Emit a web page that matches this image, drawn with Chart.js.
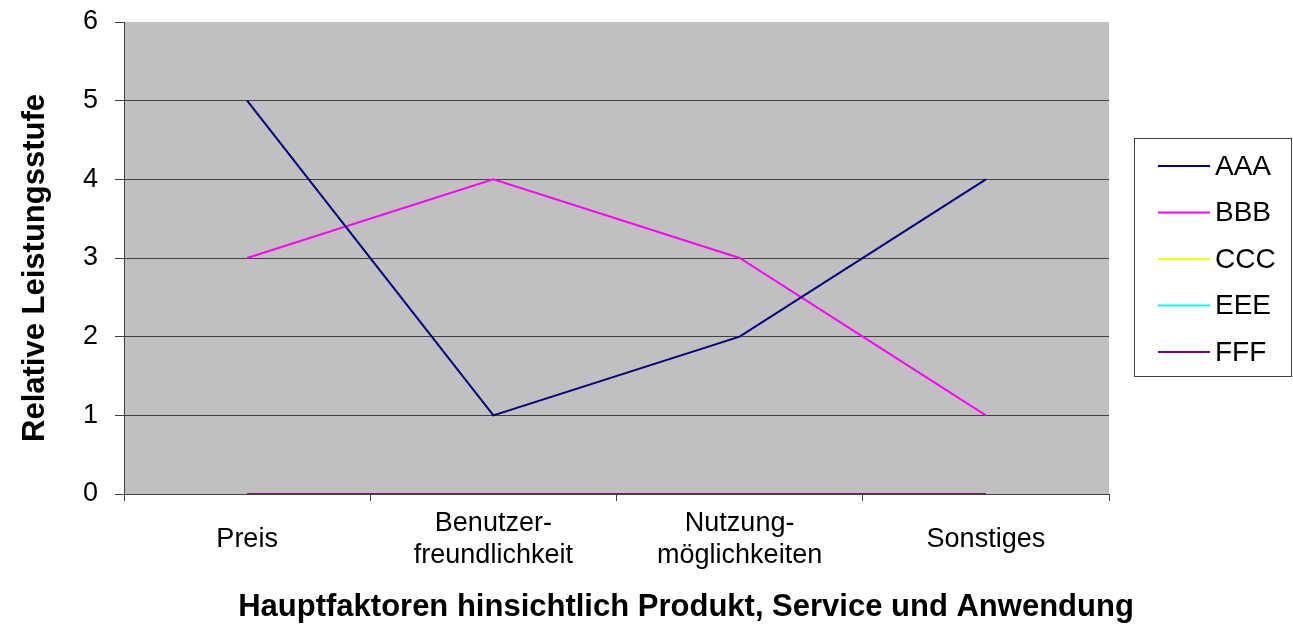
<!DOCTYPE html>
<html>
<head>
<meta charset="utf-8">
<script src="https://cdn.jsdelivr.net/npm/chart.js@4/dist/chart.umd.min.js"></script>
<style>
  html, body { margin: 0; padding: 0; background: #fff; }
  #wrap { width: 1293px; height: 625px; position: relative; }
</style>
</head>
<body>
<div id="wrap"><canvas id="chart"></canvas></div>
<script>
// categories on the x axis (multi-line labels)
const categories = [
  ['Preis'],
  ['Benutzer-', 'freundlichkeit'],
  ['Nutzung-', 'möglichkeiten'],
  ['Sonstiges']
];

// series values
const seriesNames = ['AAA', 'BBB', 'CCC', 'EEE', 'FFF'];
const aaaValues = [5, 1, 2, 4];
const bbbValues = [3, 4, 3, 1];
const cccValues = [0, 0, 0, 0];
const eeeValues = [0, 0, 0, 0];
const fffValues = [0, 0, 0, 0];
const seriesColors = ['#000080', '#FF00FF', '#FFFF00', '#00FFFF', '#800080'];
// lower order is drawn on top (FFF sits above CCC / EEE on the zero line)
const seriesOrder = [0, 1, 4, 3, 2];

const yTicks = [0, 1, 2, 3, 4, 5, 6];

const xTitle = 'Hauptfaktoren hinsichtlich Produkt, Service und Anwendung';
const yTitle = 'Relative Leistungsstufe';

const FONT = '"Liberation Sans", Arial, sans-serif';
const allValues = [aaaValues, bbbValues, cccValues, eeeValues, fffValues];

const datasets = seriesNames.map((name, i) => ({
  label: name,
  data: allValues[i],
  borderColor: seriesColors[i],
  backgroundColor: seriesColors[i],
  borderWidth: 2,
  pointRadius: 0,
  pointHoverRadius: 0,
  tension: 0,
  fill: false,
  order: seriesOrder[i]
}));

// gray plot background
const plotBackground = {
  id: 'plotBackground',
  beforeDraw(chart) {
    const { ctx, chartArea } = chart;
    ctx.save();
    ctx.fillStyle = '#C0C0C0';
    ctx.fillRect(chartArea.left, chartArea.top,
      chartArea.right - chartArea.left, chartArea.bottom - chartArea.top);
    ctx.restore();
  }
};

// axis titles, placed like the original (not centred on the plot)
const axisTitles = {
  id: 'axisTitles',
  afterDraw(chart) {
    const ctx = chart.ctx;
    ctx.save();
    ctx.fillStyle = '#000';
    ctx.font = 'bold 31px ' + FONT;
    ctx.textAlign = 'center';
    ctx.textBaseline = 'middle';
    ctx.fillText(xTitle, 686, 607);
    ctx.translate(35, 268);
    ctx.rotate(-Math.PI / 2);
    ctx.fillText(yTitle, 0, 0);
    ctx.restore();
  }
};

// boxed legend on the right, drawn from the datasets
const boxLegend = {
  id: 'boxLegend',
  afterDraw(chart) {
    const ctx = chart.ctx;
    const boxX = 1134.5, boxY = 138.5, boxW = 157, boxH = 238;
    ctx.save();
    ctx.strokeStyle = '#404040';
    ctx.lineWidth = 1;
    ctx.strokeRect(boxX, boxY, boxW, boxH);
    ctx.font = '28px ' + FONT;
    ctx.textBaseline = 'middle';
    ctx.fillStyle = '#000';
    chart.data.datasets.forEach((ds, i) => {
      const y = 166 + i * 46.5;
      ctx.strokeStyle = ds.borderColor;
      ctx.lineWidth = 2;
      ctx.beginPath();
      ctx.moveTo(1158, y);
      ctx.lineTo(1210, y);
      ctx.stroke();
      ctx.fillText(ds.label, 1215, y + 1);
    });
    ctx.restore();
  }
};

new Chart(document.getElementById('chart'), {
  type: 'line',
  data: { labels: categories, datasets: datasets },
  plugins: [plotBackground, axisTitles, boxLegend],
  options: {
    responsive: true,
    maintainAspectRatio: false,
    animation: false,
    devicePixelRatio: 1,
    layout: { padding: { top: 22, right: 184, bottom: 0, left: 0 } },
    plugins: {
      legend: { display: false },
      tooltip: { enabled: false }
    },
    scales: {
      x: {
        type: 'category',
        offset: true,
        grid: {
          offset: true,
          drawOnChartArea: false,
          drawTicks: true,
          tickLength: 7,
          color: '#404040',
          tickColor: '#404040'
        },
        border: { display: true, color: '#404040', width: 1 },
        ticks: {
          color: '#000',
          padding: 23,
          maxRotation: 0,
          autoSkip: false,
          crossAlign: 'center',
          font: { family: FONT, size: 27, lineHeight: 1.18 }
        },
        afterFit(scale) {
          scale.height = 131;
          scale.paddingLeft = 0;
          scale.paddingRight = 0;
        }
      },
      y: {
        min: 0,
        max: 6,
        afterBuildTicks(scale) { scale.ticks = yTicks.map(v => ({ value: v })); },
        grid: {
          color: ctx => (ctx.tick && ctx.tick.value === 6) ? 'rgba(0,0,0,0)' : '#404040',
          tickColor: '#404040',
          lineWidth: 1,
          drawTicks: true,
          tickLength: 9
        },
        border: { display: true, color: '#404040', width: 1 },
        ticks: {
          color: '#000',
          padding: 17,
          font: { family: FONT, size: 27 }
        },
        afterFit(scale) {
          scale.width = 124;
          scale.paddingTop = 0;
          scale.paddingBottom = 0;
        }
      }
    }
  }
});
</script>
</body>
</html>
